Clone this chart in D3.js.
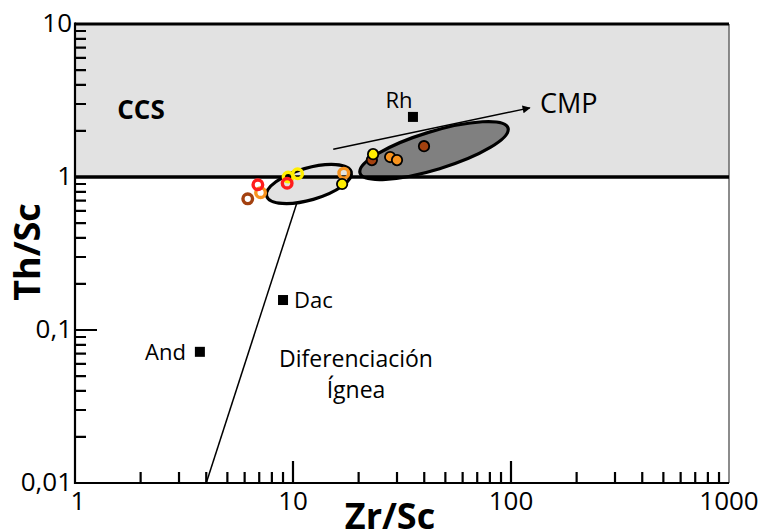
<!DOCTYPE html>
<html lang='en'>
	<head>
		<meta charset='utf-8'>
		<title>Th/Sc vs Zr/Sc</title>
		<script type='text/javascript' src='https://d3js.org/d3.v7.min.js'></script>
		<style type='text/css'>
			body { margin: 0; background: white; }
			text { font-family: 'Open Sans', sans-serif; fill: black; }
		</style>
	</head>
	<body>
		<script type='text/javascript'>
			// open rings (Zr/Sc, Th/Sc, colour)
			var ringX = [6.2, 7.1, 6.9, 9.5, 9.4, 10.5, 17.1];
			var ringY = [0.72, 0.79, 0.89, 1.0, 0.91, 1.05, 1.06];
			var ringColor = ['#a3410f', '#f7931e', '#ff1d1d', '#ffee00', '#ff1d1d', '#ffee00', '#f7931e'];

			// filled dots
			var dotX = [16.8, 39.9, 27.9, 30.0, 23.0, 23.3];
			var dotY = [0.90, 1.59, 1.35, 1.29, 1.29, 1.41];
			var dotColor = ['#ffee00', '#a3410f', '#f7931e', '#f7931e', '#a3410f', '#ffee00'];

			// reference compositions
			var refName = ['Rh', 'Dac', 'And'];
			var refX = [35.5, 9.0, 3.74];
			var refY = [2.47, 0.157, 0.072];

			// ellipses: major axis ends in data units
			var ellX1 = [7.57, 20.3];
			var ellY1 = [0.75, 1.06];
			var ellX2 = [18.5, 96.9];
			var ellY2 = [1.08, 2.09];

			// igneous trend line and CMP arrow
			var trendX = [4.0, 11.0];
			var trendY = [0.01, 0.86];
			var cmpX = [15.3, 122];
			var cmpY = [1.52, 2.83];

			var xTickValues = [1, 10, 100, 1000];
			var xTickLabels = ['1', '10', '100', '1000'];
			var yTickValues = [0.01, 0.1, 1, 10];
			var yTickLabels = ['0,01', '0,1', '1', '10'];

			var w = 759;
			var h = 531;

			var svg = d3.select('body')
						.append('svg')
						.attr('width', w)
						.attr('height', h);

			var xScale = d3.scaleLog()
						.domain([1, 1000])
						.range([75, 729]);

			var yScale = d3.scaleLog()
						.domain([0.01, 10])
						.range([483, 24]);

			svg.append('defs').append('marker')
				.attr('id', 'arrow')
				.attr('viewBox', '0 0 10 10')
				.attr('refX', 9)
				.attr('refY', 5)
				.attr('markerWidth', 12)
				.attr('markerHeight', 8)
				.attr('markerUnits', 'userSpaceOnUse')
				.attr('orient', 'auto')
				.append('path')
				.attr('d', 'M0,0 L10,5 L0,10 z')
				.attr('fill', 'black');

			// grey field above Th/Sc = 1
			svg.append('rect')
				.attr('x', xScale(1))
				.attr('y', yScale(10))
				.attr('width', xScale(1000) - xScale(1))
				.attr('height', yScale(1) - yScale(10))
				.attr('fill', '#e2e2e2');

			// right border
			svg.append('line')
				.attr('x1', xScale(1000)).attr('x2', xScale(1000))
				.attr('y1', yScale(10)).attr('y2', yScale(0.01))
				.attr('stroke', '#666')
				.attr('stroke-width', 1.5);

			// top border
			svg.append('line')
				.attr('x1', xScale(1)).attr('x2', xScale(1000))
				.attr('y1', yScale(10)).attr('y2', yScale(10))
				.attr('stroke', 'black')
				.attr('stroke-width', 3);

			// log ticks, pointing inwards, drawn as one path
			var xTicks = [], yTicks = [];
			[1, 10, 100].forEach(function(d) {
				for (var k = 2; k <= 10; k++) xTicks.push(d * k);
			});
			[0.01, 0.1, 1].forEach(function(d) {
				for (var k = 2; k <= 9; k++) yTicks.push(d * k);
				if (d === 0.01) yTicks.push(0.1);
			});
			var isMajor = function(d) {
				var l = Math.log10(d);
				return Math.abs(l - Math.round(l)) < 1e-6;
			};

			var tickPath = d3.path();
			xTicks.forEach(function(d) {
				if (d >= 1000) return;
				var x = xScale(d);
				tickPath.moveTo(x, yScale(0.01));
				tickPath.lineTo(x, yScale(0.01) - (isMajor(d) ? 22 : 11));
			});
			yTicks.forEach(function(d) {
				var y = yScale(d);
				tickPath.moveTo(xScale(1), y);
				tickPath.lineTo(xScale(1) + (isMajor(d) ? 22 : 11), y);
			});
			svg.append('path')
				.attr('d', tickPath.toString())
				.attr('fill', 'none')
				.attr('stroke', 'black')
				.attr('stroke-width', 2.2);

			// axis lines
			svg.append('line')
				.attr('x1', xScale(1)).attr('x2', xScale(1000))
				.attr('y1', yScale(0.01)).attr('y2', yScale(0.01))
				.attr('stroke', 'black').attr('stroke-width', 2.2);
			svg.append('line')
				.attr('x1', xScale(1)).attr('x2', xScale(1))
				.attr('y1', yScale(10) - 1.5).attr('y2', yScale(0.01) + 1)
				.attr('stroke', 'black').attr('stroke-width', 2.2);

			// tick labels
			svg.selectAll('.xlab')
				.data(xTickValues)
				.enter()
				.append('text')
				.attr('class', 'xlab')
				.attr('x', function(d, i) { return xScale(d) + (i === 0 ? 3 : 0); })
				.attr('y', yScale(0.01) + 27)
				.attr('text-anchor', 'middle')
				.attr('font-size', 26)
				.text(function(d, i) { return xTickLabels[i]; });

			svg.selectAll('.ylab')
				.data(yTickValues)
				.enter()
				.append('text')
				.attr('class', 'ylab')
				.attr('x', xScale(1) - 3)
				.attr('y', function(d) { return yScale(d) + 8; })
				.attr('text-anchor', 'end')
				.attr('font-size', 26)
				.text(function(d, i) { return yTickLabels[i]; });

			// axis titles
			svg.append('text')
				.attr('x', 390)
				.attr('y', 529)
				.attr('text-anchor', 'middle')
				.attr('font-size', 36)
				.attr('font-weight', 'bold')
				.text('Zr/Sc');

			svg.append('text')
				.attr('transform', 'translate(40,252) rotate(-90)')
				.attr('text-anchor', 'middle')
				.attr('font-size', 36)
				.attr('font-weight', 'bold')
				.text('Th/Sc');

			// trend line
			svg.append('line')
				.attr('x1', xScale(trendX[0])).attr('y1', yScale(trendY[0]))
				.attr('x2', xScale(trendX[1])).attr('y2', yScale(trendY[1]))
				.attr('stroke', 'black')
				.attr('stroke-width', 1.5);

			// ellipses
			var ellFill = ['#e2e2e2', '#808080'];
			var ellHalfWidth = [16, 19];
			ellX1.forEach(function(d, i) {
				var ax = xScale(ellX1[i]), ay = yScale(ellY1[i]);
				var bx = xScale(ellX2[i]), by = yScale(ellY2[i]);
				var cx = (ax + bx) / 2, cy = (ay + by) / 2;
				var rx = Math.hypot(bx - ax, by - ay) / 2;
				var ang = Math.atan2(by - ay, bx - ax) * 180 / Math.PI;
				svg.append('ellipse')
					.attr('transform', 'translate(' + cx + ',' + cy + ') rotate(' + ang + ')')
					.attr('rx', rx)
					.attr('ry', ellHalfWidth[i])
					.attr('fill', ellFill[i])
					.attr('stroke', 'black')
					.attr('stroke-width', 3.2);
			});

			// Th/Sc = 1 line
			svg.append('line')
				.attr('x1', xScale(1)).attr('x2', xScale(1000))
				.attr('y1', yScale(1)).attr('y2', yScale(1))
				.attr('stroke', 'black')
				.attr('stroke-width', 3.5);

			// CMP arrow
			svg.append('line')
				.attr('x1', xScale(cmpX[0])).attr('y1', yScale(cmpY[0]))
				.attr('x2', xScale(cmpX[1])).attr('y2', yScale(cmpY[1]))
				.attr('stroke', 'black')
				.attr('stroke-width', 1.5)
				.attr('marker-end', 'url(#arrow)');

			// samples
			svg.selectAll('.ring')
				.data(ringX)
				.enter()
				.append('circle')
				.attr('class', 'ring')
				.attr('cx', function(d) { return xScale(d); })
				.attr('cy', function(d, i) { return yScale(ringY[i]); })
				.attr('r', 4.8)
				.attr('fill', 'none')
				.attr('stroke', function(d, i) { return ringColor[i]; })
				.attr('stroke-width', 3.4);

			svg.selectAll('.dot')
				.data(dotX)
				.enter()
				.append('circle')
				.attr('class', 'dot')
				.attr('cx', function(d) { return xScale(d); })
				.attr('cy', function(d, i) { return yScale(dotY[i]); })
				.attr('r', 5.2)
				.attr('fill', function(d, i) { return dotColor[i]; })
				.attr('stroke', 'black')
				.attr('stroke-width', 1.8);

			// reference squares
			svg.selectAll('.ref')
				.data(refX)
				.enter()
				.append('rect')
				.attr('class', 'ref')
				.attr('x', function(d) { return xScale(d) - 5; })
				.attr('y', function(d, i) { return yScale(refY[i]) - 5; })
				.attr('width', 10)
				.attr('height', 10)
				.attr('fill', 'black');

			var refDx = [-14, 11, -14];
			var refDy = [-9, 8, 8];
			var refAnchor = ['middle', 'start', 'end'];
			svg.selectAll('.reflab')
				.data(refName)
				.enter()
				.append('text')
				.attr('class', 'reflab')
				.attr('x', function(d, i) { return xScale(refX[i]) + refDx[i]; })
				.attr('y', function(d, i) { return yScale(refY[i]) + refDy[i]; })
				.attr('text-anchor', function(d, i) { return refAnchor[i]; })
				.attr('font-size', 22)
				.text(function(d) { return d; });

			// field labels
			svg.append('text')
				.attr('x', 141).attr('y', 119)
				.attr('text-anchor', 'middle')
				.attr('font-size', 26)
				.attr('font-weight', 'bold')
				.text('CCS');

			svg.append('text')
				.attr('x', 540).attr('y', 113)
				.attr('font-size', 27)
				.text('CMP');

			svg.append('text')
				.attr('x', 356).attr('y', 367)
				.attr('text-anchor', 'middle')
				.attr('font-size', 23)
				.text('Diferenciación');

			svg.append('text')
				.attr('x', 356).attr('y', 398)
				.attr('text-anchor', 'middle')
				.attr('font-size', 23)
				.text('Ígnea');
		</script>
	</body>
</html>
